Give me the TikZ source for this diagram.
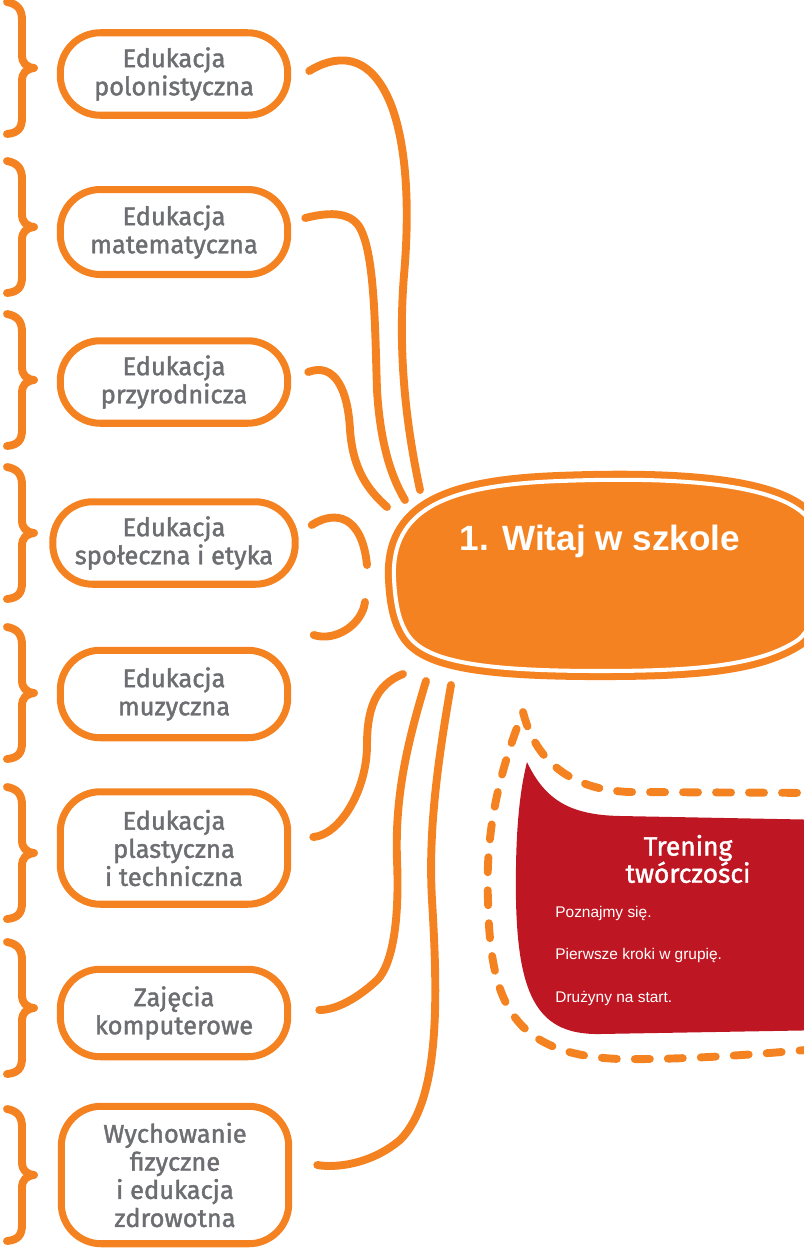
\documentclass[tikz,border=0pt]{standalone}
\usepackage{fontspec}
\setmainfont{Fira Sans}
\newfontfamily\handfont[FakeBold=1.6]{Fira Sans}
\newfontfamily\arialfont{Liberation Sans}
\definecolor{orng}{HTML}{F58220}
\definecolor{wine}{HTML}{BE1622}
\definecolor{txtgray}{HTML}{6D6E71}
\tikzset{
  subj/.style={draw=orng, line width=4pt, rounded corners=0.8cm, minimum width=4.55cm,
    minimum height=1.65cm, align=center, text=txtgray, font=\handfont\fontsize{14.5}{16}\selectfont},
  link/.style={draw=orng, line width=4.5pt, line cap=round},
  brace/.style={draw=orng, line width=4.5pt, line cap=round, line join=round},
}
\begin{document}
\begin{tikzpicture}[x=0.02cm, y=-0.02cm]
\useasboundingbox (0,0) rectangle (804,1248);
\clip (0,0) rectangle (804,1248);

% klamry po lewej
\foreach \t in {68,227,380,533,693,853,1008,1175}
  \draw[brace] (7,\t-66) .. controls (18,\t-64) and (22,\t-58) .. (22,\t-48) -- (22,\t-13)
    .. controls (22,\t-5) and (26,\t-1) .. (34,\t) .. controls (26,\t+1) and (22,\t+5) .. (22,\t+13)
    -- (22,\t+50) .. controls (22,\t+60) and (18,\t+65) .. (7,\t+66);

% przedmioty
\node[subj] (pol) at (174,74) {Edukacja\\polonistyczna};
\node[subj, minimum height=1.7cm] (mat) at (174,232) {Edukacja\\matematyczna};
\node[subj] (przyr) at (174,382) {Edukacja\\przyrodnicza};
\node[subj, minimum width=4.85cm] (spol) at (174,543) {Edukacja\\społeczna i etyka};
\node[subj, minimum height=1.75cm] (muz) at (174,694) {Edukacja\\muzyczna};
\node[subj, minimum height=2.25cm] (plast) at (174,848) {Edukacja\\plastyczna\\i techniczna};
\node[subj, minimum height=1.75cm] (komp) at (174,1013) {Zajęcia\\komputerowe};
\node[subj, minimum height=2.75cm] (wf) at (175,1175) {Wychowanie\\fizyczne\\i edukacja\\zdrowotna};

% temat
\draw[fill=orng, draw=orng, double=white, double distance=2.3pt, line width=4pt]
  (394,578) .. controls (391,510) and (445,485) .. (560,481)
  .. controls (690,476) and (775,486) .. (805,515)
  .. controls (828,540) and (828,615) .. (798,640)
  .. controls (760,665) and (700,671) .. (600,671)
  .. controls (475,671) and (425,660) .. (408,635)
  .. controls (398,620) and (395,600) .. (394,578) -- cycle;
\node[text=white, font=\arialfont\bfseries\fontsize{20}{24}\selectfont] (witaj) at (600,541) {1. Witaj w szkole};

\coordinate (w1) at (420,490);
\coordinate (w2) at (405,500);
\coordinate (w3) at (387,507);
\coordinate (w6) at (403,674);
\coordinate (w7) at (426,681);
\coordinate (w8) at (451,685);

% polaczenia
\draw[link] ([shift={(18,-3)}]pol.east) .. controls (330,58) and (370,45) .. (393,110)
  .. controls (410,160) and (408,230) .. (404,275) .. controls (398,350) and (405,420) .. (w1);
\draw[link] ([shift={(14,-14)}]mat.east) .. controls (325,213) and (350,210) .. (360,228)
  .. controls (375,255) and (375,330) .. (377,390) .. controls (380,440) and (390,475) .. (w2);
\draw[link] ([shift={(17,-10)}]przyr.east) .. controls (335,362) and (348,390) .. (350,430)
  .. controls (353,470) and (368,490) .. (w3);
\draw[link] ([shift={(13,-18)}]spol.east) .. controls (335,510) and (362,515) .. (367,565);
\draw[link] (365,602) .. controls (362,625) and (335,642) .. ([shift={(15,92)}]spol.east);
\draw[link] (w6) .. controls (375,685) and (367,710) .. (367,745)
  .. controls (367,790) and (340,835) .. ([shift={(22,-11)}]plast.east);
\draw[link] (w7) .. controls (405,750) and (395,800) .. (397,860)
  .. controls (400,930) and (390,970) .. (375,982) .. controls (355,1000) and (335,1010) .. ([shift={(28,-3)}]komp.east);
\draw[link] (w8) .. controls (438,760) and (428,830) .. (432,900)
  .. controls (438,1000) and (440,1100) .. (400,1140) .. controls (370,1165) and (335,1168) .. ([shift={(25,-10)}]wf.east);

% trening tworczosci
\fill[wine] (527,762) .. controls (545,800) and (570,815) .. (620,816) -- (830,820) -- (830,1030)
  -- (600,1034) .. controls (540,1035) and (518,1000) .. (516,900) .. controls (515,830) and (520,790) .. (527,762) -- cycle;
\draw[orng, line width=4.5pt, line cap=round, dash pattern=on 0.3cm off 0.36cm]
  (830,793) -- (630,792) .. controls (570,790) and (535,760) .. (523,712)
  .. controls (500,770) and (485,830) .. (488,900) .. controls (490,1000) and (510,1055) .. (620,1059)
  .. controls (700,1060) and (780,1052) .. (830,1048);

\node[text=white, align=center, font=\handfont\fontsize{15}{15.5}\selectfont] (trening) at (688,859) {Trening\\twórczości};
\node[anchor=west, inner sep=0, text=white, font=\arialfont\fontsize{8.8}{10}\selectfont] (poz) at (555,913) {Poznajmy się.};
\node[anchor=west, inner sep=0, text=white, font=\arialfont\fontsize{8.8}{10}\selectfont] (kroki) at (555,955) {Pierwsze kroki w grupię.};
\node[anchor=west, inner sep=0, text=white, font=\arialfont\fontsize{8.8}{10}\selectfont] (druz) at (555,998) {Drużyny na start.};
\end{tikzpicture}
\end{document}
